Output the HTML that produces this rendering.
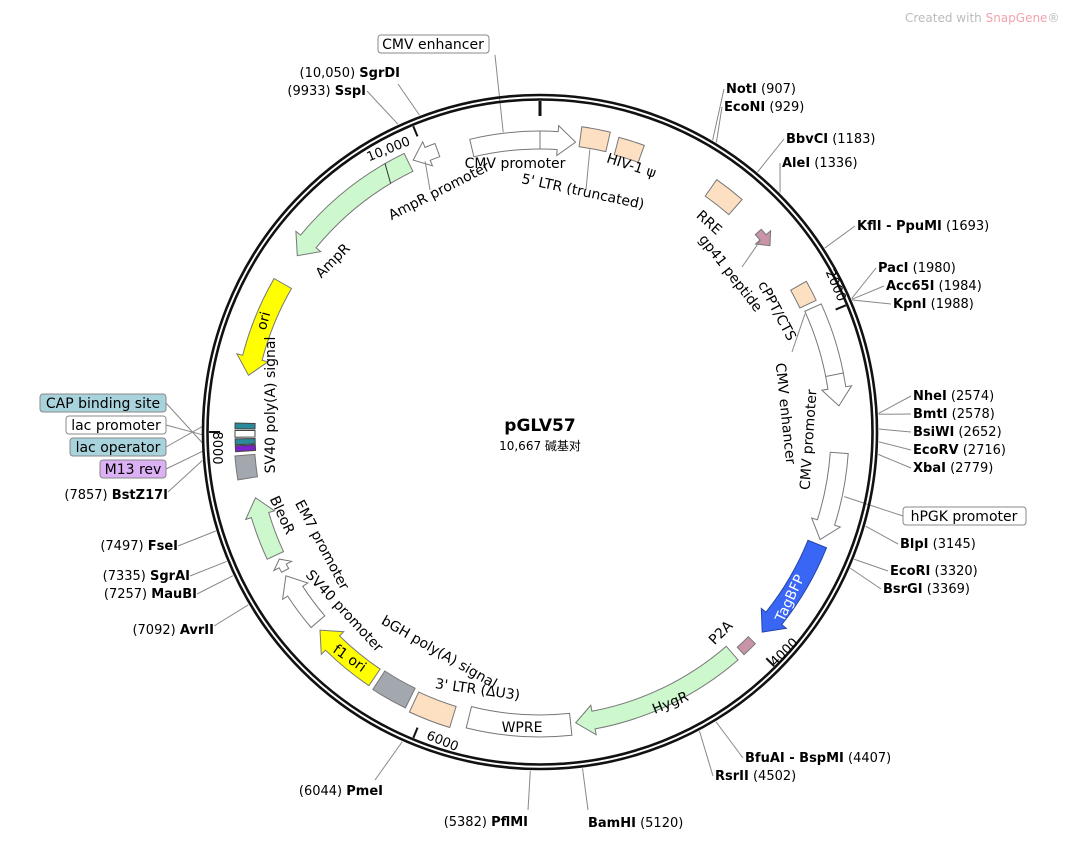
<!DOCTYPE html>
<html><head><meta charset="utf-8"><style>
body{margin:0;background:#fff;width:1065px;height:840px;overflow:hidden}
svg{font-family:"DejaVu Sans","Liberation Sans","Noto Sans CJK SC",sans-serif}
.e{font-size:13px;fill:#000}
.b{font-weight:bold}
.f{font-size:14px;fill:#000}
</style></head><body>
<svg id="s" width="1065" height="840" viewBox="0 0 1065 840">
<g id="g"></g>
<circle cx="540" cy="432" r="337" fill="none" stroke="#111" stroke-width="2.6"/>
<circle cx="540" cy="432" r="332.5" fill="none" stroke="#111" stroke-width="2.6"/>
<text x="905" y="22" font-size="12" fill="#bbb">Created with <tspan fill="#f3a3ad">SnapGene</tspan>®</text>
<text x="540" y="431" text-anchor="middle" font-size="17" font-weight="bold">pGLV57</text>
<text x="540" y="450" text-anchor="middle" font-size="12">10,667 碱基对</text>

<text class="e" transform="translate(390,153) rotate(-22)" text-anchor="middle">10,000</text>
<text class="e" transform="translate(832,287) rotate(67)" text-anchor="middle">2000</text>
<text class="e" transform="translate(787,655) rotate(-45)" text-anchor="middle">4000</text>
<text class="e" transform="translate(441,745) rotate(22)" text-anchor="middle">6000</text>
<text class="e" transform="translate(213,448) rotate(90)" text-anchor="middle">8000</text>

<g class="f">
<text class="f" x="515" y="168" text-anchor="middle">CMV promoter</text>
<text class="f" transform="translate(582,196) rotate(12)" text-anchor="middle">5' LTR (truncated)</text>
<text class="f" transform="translate(630,170) rotate(18)" text-anchor="middle">HIV-1 ψ</text>
<text class="f" transform="translate(441,195) rotate(-27)" text-anchor="middle">AmpR promoter</text>
<text class="f" transform="translate(336,264) rotate(-45)" text-anchor="middle">AmpR</text>
<text class="f" transform="translate(268,322) rotate(-75)" text-anchor="middle">ori</text>
<text class="f" transform="translate(275,405) rotate(-90)" text-anchor="middle">SV40 poly(A) signal</text>
<text class="f" transform="translate(318,547) rotate(62)" text-anchor="middle">EM7 promoter</text>
<text class="f" transform="translate(278,517) rotate(65)" text-anchor="middle">BleoR</text>
<text class="f" transform="translate(341,614) rotate(47)" text-anchor="middle">SV40 promoter</text>
<text class="f" transform="translate(437,656) rotate(30)" text-anchor="middle">bGH poly(A) signal</text>
<text class="f" transform="translate(347,662) rotate(35)" text-anchor="middle">f1 ori</text>
<text class="f" transform="translate(477,694) rotate(8)" text-anchor="middle">3' LTR (ΔU3)</text>
<text class="f" x="522" y="732" text-anchor="middle">WPRE</text>
<text class="f" transform="translate(672,707) rotate(-22)" text-anchor="middle">HygR</text>
<text class="f" transform="translate(724,636) rotate(-45)" text-anchor="middle">P2A</text>
<text class="f" transform="translate(794,600) rotate(-65)" text-anchor="middle" style="fill:#fff">TagBFP</text>
<text class="f" transform="translate(781,414) rotate(84)" text-anchor="middle">CMV enhancer</text>
<text class="f" transform="translate(813,440) rotate(-86)" text-anchor="middle">CMV promoter</text>
<text class="f" transform="translate(773,313) rotate(62)" text-anchor="middle">cPPT/CTS</text>
<text class="f" transform="translate(727,276) rotate(52)" text-anchor="middle">gp41 peptide</text>
<text class="f" transform="translate(706,226) rotate(42)" text-anchor="middle">RRE</text>
</g>

<rect x="378" y="35" width="111" height="18" rx="3" fill="#fff" stroke="#888"/>
<text class="f" x="433" y="49" text-anchor="middle">CMV enhancer</text>
<rect x="903" y="507" width="123" height="18" rx="3" fill="#fff" stroke="#888"/>
<text class="f" x="964" y="521" text-anchor="middle">hPGK promoter</text>
<rect x="40" y="394" width="126" height="18" rx="3" fill="#a9d3dc" stroke="#888"/>
<text class="f" x="103" y="408" text-anchor="middle">CAP binding site</text>
<rect x="66" y="416" width="100" height="18" rx="3" fill="#fff" stroke="#888"/>
<text class="f" x="116" y="430" text-anchor="middle">lac promoter</text>
<rect x="70" y="438" width="96" height="18" rx="3" fill="#a9d3dc" stroke="#888"/>
<text class="f" x="118" y="452" text-anchor="middle">lac operator</text>
<rect x="100" y="460" width="66" height="18" rx="3" fill="#dcb0f5" stroke="#888"/>
<text class="f" x="133" y="474" text-anchor="middle">M13 rev</text>

<g class="e">
<text class="e" x="400" y="77" text-anchor="end">(10,050)  <tspan class="b">SgrDI</tspan></text>
<text class="e" x="366" y="95" text-anchor="end">(9933)  <tspan class="b">SspI</tspan></text>
<text class="e" x="726" y="93"><tspan class="b">NotI</tspan>  (907)</text>
<text class="e" x="724" y="111"><tspan class="b">EcoNI</tspan>  (929)</text>
<text class="e" x="786" y="143"><tspan class="b">BbvCI</tspan>  (1183)</text>
<text class="e" x="782" y="167"><tspan class="b">AleI</tspan>  (1336)</text>
<text class="e" x="857" y="230"><tspan class="b">KflI - PpuMI</tspan>  (1693)</text>
<text class="e" x="878" y="272"><tspan class="b">PacI</tspan>  (1980)</text>
<text class="e" x="886" y="290"><tspan class="b">Acc65I</tspan>  (1984)</text>
<text class="e" x="893" y="308"><tspan class="b">KpnI</tspan>  (1988)</text>
<text class="e" x="913" y="400"><tspan class="b">NheI</tspan>  (2574)</text>
<text class="e" x="913" y="418"><tspan class="b">BmtI</tspan>  (2578)</text>
<text class="e" x="913" y="436"><tspan class="b">BsiWI</tspan>  (2652)</text>
<text class="e" x="913" y="454"><tspan class="b">EcoRV</tspan>  (2716)</text>
<text class="e" x="913" y="472"><tspan class="b">XbaI</tspan>  (2779)</text>
<text class="e" x="900" y="548"><tspan class="b">BlpI</tspan>  (3145)</text>
<text class="e" x="890" y="575"><tspan class="b">EcoRI</tspan>  (3320)</text>
<text class="e" x="883" y="593"><tspan class="b">BsrGI</tspan>  (3369)</text>
<text class="e" x="745" y="762"><tspan class="b">BfuAI - BspMI</tspan>  (4407)</text>
<text class="e" x="715" y="780"><tspan class="b">RsrII</tspan>  (4502)</text>
<text class="e" x="588" y="827"><tspan class="b">BamHI</tspan>  (5120)</text>
<text class="e" x="528" y="826" text-anchor="end">(5382)  <tspan class="b">PflMI</tspan></text>
<text class="e" x="383" y="795" text-anchor="end">(6044)  <tspan class="b">PmeI</tspan></text>
<text class="e" x="214" y="634" text-anchor="end">(7092)  <tspan class="b">AvrII</tspan></text>
<text class="e" x="197" y="598" text-anchor="end">(7257)  <tspan class="b">MauBI</tspan></text>
<text class="e" x="190" y="580" text-anchor="end">(7335)  <tspan class="b">SgrAI</tspan></text>
<text class="e" x="178" y="550" text-anchor="end">(7497)  <tspan class="b">FseI</tspan></text>
<text class="e" x="168" y="499" text-anchor="end">(7857)  <tspan class="b">BstZ17I</tspan></text>
</g>
</svg>
<script>
var NS="http://www.w3.org/2000/svg",G=document.getElementById('g'),CX=540,CY=432;
function P(a,r){a=a*Math.PI/180;return [CX+r*Math.sin(a),CY-r*Math.cos(a)];}
function add(tag,at){var e=document.createElementNS(NS,tag);for(var k in at)e.setAttribute(k,at[k]);G.appendChild(e);return e;}
function f(p){return p[0].toFixed(1)+' '+p[1].toFixed(1);}
function box(a1,a2,r,hw,fill,st){
 var o=r+hw,i=r-hw,lg=(a2-a1)>180?1:0;
 add('path',{d:'M'+f(P(a1,o))+' A'+o+' '+o+' 0 '+lg+' 1 '+f(P(a2,o))+' L'+f(P(a2,i))+' A'+i+' '+i+' 0 '+lg+' 0 '+f(P(a1,i))+'Z',fill:fill,stroke:st||'#777','stroke-width':1});
}
function arrow(a1,a2,dir,r,hw,fill,st){
 var head=Math.min(10*180/Math.PI/r*1.8,(a2-a1)*0.6),o=r+hw,i=r-hw,ho=r+hw+6,hi=r-hw-6,d;
 if(dir>0){var b=a2-head;
  d='M'+f(P(a1,o))+' A'+o+' '+o+' 0 0 1 '+f(P(b,o))+' L'+f(P(b,ho))+' L'+f(P(a2,r))+' L'+f(P(b,hi))+' L'+f(P(b,i))+' A'+i+' '+i+' 0 0 0 '+f(P(a1,i))+'Z';}
 else{var b=a1+head;
  d='M'+f(P(a2,o))+' A'+o+' '+o+' 0 0 0 '+f(P(b,o))+' L'+f(P(b,ho))+' L'+f(P(a1,r))+' L'+f(P(b,hi))+' L'+f(P(b,i))+' A'+i+' '+i+' 0 0 1 '+f(P(a2,i))+'Z';}
 add('path',{d:d,fill:fill,stroke:st||'#777','stroke-width':1});
}
function line(a,b,st,w){add('line',{x1:a[0],y1:a[1],x2:b[0],y2:b[1],stroke:st||'#777','stroke-width':w||1});}
var PE='#fde0c2',GR='#cdf7cd',GY='#a3a7ae';
arrow(-13.5,7,1,292,9,'#fff');
line(P(0,283),P(0,301),'#777');
box(7.8,13.2,298,10,PE);
box(15,20,296,9,PE);
box(35,41,298,10,PE);
arrow(47.5,51,1,296,4,'#c993a8');
box(60.5,64.5,297,9,PE);
arrow(65.5,85,1,300,9,'#fff');
line(P(79,291),P(79,309),'#777');
arrow(94,111,1,300,9,'#fff');
arrow(112,132,1,299,10,'#3a66f5','#2244aa');
box(134.5,137.5,297,5,'#c993a8');
arrow(139,173,1,293,9,GR);
box(174,194,294,11,'#fff');
box(197,205,298,11,PE);
box(206,213,296,11,GY);
arrow(214,228,1,296,10,'#ffff00');
arrow(229.5,240.5,1,292,9,'#fff');
arrow(241.5,244,1,290,4,'#fff');
arrow(245,257,1,292,9,GR);
box(261,265.5,296,10,GY);
box(266.3,267.4,295,10,'#7a22cc','#444');
box(267.6,268.7,295,10,'#2a8a99','#444');
box(269,270.3,295,10,'#fff','#444');
box(270.6,271.7,295,10,'#2a8a99','#444');
arrow(281,300,-1,297,10,'#ffff00');
arrow(306,334,-1,300,10,GR);
line(P(329,290),P(330,310),'#333');
arrow(335,340,-1,300,7,'#fff');
[0,2000,4000,6000,8000,10000].forEach(function(p){var a=p/10667*360;line(P(a,331),P(a,p==0?316:320),'#111',p==0?3:2);});
var L=[[10050,398,84],[9933,367,91],[907,724,89],[929,722,107],[1183,784,139],[1336,780,163],[1693,855,226],
[1980,876,268],[1984,884,286],[1988,891,304],[2574,911,396],[2578,911,414],[2652,911,432],[2716,911,450],[2779,911,468],
[3145,898,544],[3320,888,571],[3369,881,589],[4407,743,758],[4502,713,776],[5120,588,810],[5382,528,810],[6044,375,780],
[7092,214,626],[7257,197,594],[7335,190,576],[7497,178,546],[7857,168,492]];
L.forEach(function(l){var a=l[0]/10667*360;line(P(a,339),[l[1],l[2]],'#888');});
line([495,55],P(-7,302),'#888');line([903,516],P(102,311),'#888');
line([166,403],P(268,337),'#888');line([166,425],P(269.5,337),'#888');
line([166,447],P(271,337),'#888');line([166,469],P(266.8,337),'#888');
line([586,190],P(10,287),'#888');line([430,190],P(337,294),'#888');
line([742,267],P(49,292),'#888');line([792,352],P(66,290),'#888');
</script>
</body></html>
